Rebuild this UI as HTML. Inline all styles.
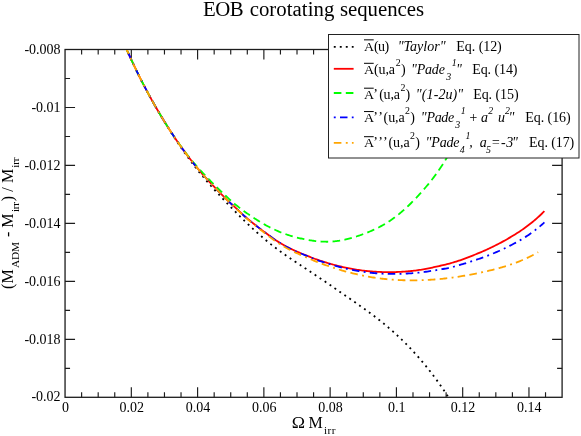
<!DOCTYPE html>
<html><head><meta charset="utf-8"><title>EOB corotating sequences</title>
<style>html,body{margin:0;padding:0;background:#fff;}body{width:581px;height:436px;overflow:hidden;position:relative;font-family:"Liberation Serif",serif;}</style>
</head><body>
<svg width="581" height="436" viewBox="0 0 581 436" style="position:absolute;left:0;top:0">
<rect x="0" y="0" width="581" height="436" fill="#fff"/>
<defs><clipPath id="cp"><rect x="65.64999999999999" y="50.1" width="495.85" height="346.6"/></clipPath></defs>
<g stroke="#1c1c1c" stroke-width="1.3" fill="none" stroke-linecap="butt">
<rect x="65.05" y="49.5" width="497.05" height="347.8"/>
<path d="M81.62,397.3v-5M81.62,49.5v5M98.19,397.3v-5M98.19,49.5v5M114.75,397.3v-5M114.75,49.5v5M131.32,397.3v-10M131.32,49.5v10M147.89,397.3v-5M147.89,49.5v5M164.46,397.3v-5M164.46,49.5v5M181.03,397.3v-5M181.03,49.5v5M197.60,397.3v-10M197.60,49.5v10M214.17,397.3v-5M214.17,49.5v5M230.73,397.3v-5M230.73,49.5v5M247.30,397.3v-5M247.30,49.5v5M263.87,397.3v-10M263.87,49.5v10M280.44,397.3v-5M280.44,49.5v5M297.01,397.3v-5M297.01,49.5v5M313.58,397.3v-5M313.58,49.5v5M330.14,397.3v-10M330.14,49.5v10M346.71,397.3v-5M346.71,49.5v5M363.28,397.3v-5M363.28,49.5v5M379.85,397.3v-5M379.85,49.5v5M396.42,397.3v-10M396.42,49.5v10M412.99,397.3v-5M412.99,49.5v5M429.55,397.3v-5M429.55,49.5v5M446.12,397.3v-5M446.12,49.5v5M462.69,397.3v-10M462.69,49.5v10M479.26,397.3v-5M479.26,49.5v5M495.83,397.3v-5M495.83,49.5v5M512.40,397.3v-5M512.40,49.5v5M528.96,397.3v-10M528.96,49.5v10M545.53,397.3v-5M545.53,49.5v5M65.05,78.48h5M562.1,78.48h-5M65.05,107.47h10M562.1,107.47h-10M65.05,136.45h5M562.1,136.45h-5M65.05,165.43h10M562.1,165.43h-10M65.05,194.42h5M562.1,194.42h-5M65.05,223.40h10M562.1,223.40h-10M65.05,252.38h5M562.1,252.38h-5M65.05,281.37h10M562.1,281.37h-10M65.05,310.35h5M562.1,310.35h-5M65.05,339.33h10M562.1,339.33h-10M65.05,368.32h5M562.1,368.32h-5" stroke-width="1.15"/>
</g>
<g clip-path="url(#cp)" fill="none" stroke-linejoin="round">
<path d="M124.30,44.20 L125.32,46.53 L126.34,48.83 L127.36,51.12 L128.38,53.39 L129.41,55.63 L130.43,57.86 L131.45,60.06 L132.47,62.24 L133.49,64.41 L134.51,66.55 L135.53,68.67 L136.55,70.77 L137.57,72.86 L138.59,74.92 L139.62,76.97 L140.64,79.00 L141.66,81.01 L142.68,83.00 L143.70,84.97 L144.72,86.93 L145.74,88.87 L146.76,90.79 L147.78,92.70 L148.80,94.59 L149.83,96.46 L150.85,98.32 L151.87,100.16 L152.89,101.99 L153.91,103.80 L154.93,105.59 L155.95,107.37 L156.97,109.14 L157.99,110.89 L159.01,112.63 L160.04,114.35 L161.06,116.05 L162.08,117.75 L163.10,119.43 L164.12,121.09 L165.14,122.75 L166.16,124.38 L167.18,126.01 L168.20,127.62 L169.22,129.22 L170.25,131.15 L171.27,132.76 L172.29,134.36 L173.31,135.95 L174.33,137.53 L175.35,139.09 L176.37,140.64 L177.39,142.18 L178.41,143.71 L179.43,145.23 L180.46,146.73 L181.48,148.22 L182.50,149.70 L183.52,151.17 L184.54,152.62 L185.56,154.06 L186.58,155.48 L187.60,156.90 L188.62,158.30 L189.64,159.68 L190.67,161.06 L191.69,162.42 L192.71,163.77 L193.73,165.10 L194.75,166.42 L195.77,167.73 L196.79,169.03 L197.81,170.31 L198.83,171.58 L199.85,172.84 L200.88,174.08 L201.90,175.32 L202.92,176.55 L203.94,177.77 L204.96,178.97 L205.98,180.17 L207.00,181.36 L208.02,182.54 L209.04,183.70 L210.06,184.87 L211.09,186.02 L212.11,187.16 L213.13,188.30 L214.15,189.42 L215.17,190.54 L216.19,191.65 L217.21,192.76 L218.23,193.86 L219.25,194.95 L220.27,196.04 L221.30,197.13 L222.32,198.20 L223.34,199.28 L224.36,200.35 L225.38,201.42 L226.40,202.48 L227.42,203.55 L228.44,204.61 L229.46,205.67 L230.48,206.73 L231.51,207.79 L232.53,208.84 L233.55,209.89 L234.57,210.94 L235.59,211.98 L236.61,213.02 L237.63,214.05 L238.65,215.08 L239.67,216.10 L240.69,217.11 L241.72,218.11 L242.74,219.11 L243.76,220.11 L244.78,221.10 L245.80,222.09 L246.82,223.07 L247.84,224.04 L248.86,225.01 L249.88,225.98 L250.90,226.93 L251.93,227.88 L252.95,228.83 L253.97,229.77 L254.99,230.70 L256.01,231.62 L257.03,232.54 L258.05,233.45 L259.07,234.36 L260.09,235.26 L261.11,236.14 L262.14,237.03 L263.16,237.90 L264.18,238.76 L265.20,239.62 L266.22,240.47 L267.24,241.31 L268.26,242.15 L269.28,242.97 L270.30,243.79 L271.32,244.60 L272.35,245.40 L273.37,246.19 L274.39,246.98 L275.41,247.76 L276.43,248.53 L277.45,249.29 L278.47,250.05 L279.49,250.80 L280.51,251.55 L281.53,252.28 L282.56,253.02 L283.58,253.74 L284.60,254.46 L285.62,255.18 L286.64,255.89 L287.66,256.59 L288.68,257.29 L289.70,257.99 L290.72,258.68 L291.74,259.37 L292.77,260.06 L293.79,260.74 L294.81,261.42 L295.83,262.10 L296.85,262.78 L297.87,263.46 L298.89,264.14 L299.91,264.81 L300.93,265.49 L301.95,266.16 L302.98,266.84 L304.00,267.51 L305.02,268.19 L306.04,268.86 L307.06,269.53 L308.08,270.21 L309.10,270.89 L310.12,271.56 L311.14,272.24 L312.16,272.92 L313.19,273.60 L314.21,274.28 L315.23,274.96 L316.25,275.64 L317.27,276.33 L318.29,277.01 L319.31,277.70 L320.33,278.39 L321.35,279.08 L322.37,279.77 L323.40,280.46 L324.42,281.16 L325.44,281.85 L326.46,282.55 L327.48,283.25 L328.50,283.95 L329.52,284.65 L330.54,285.35 L331.56,286.05 L332.58,286.75 L333.61,287.46 L334.63,288.16 L335.65,288.87 L336.67,289.58 L337.69,290.28 L338.71,290.99 L339.73,291.70 L340.75,292.41 L341.77,293.11 L342.79,293.82 L343.82,294.53 L344.84,295.23 L345.86,295.94 L346.88,296.65 L347.90,297.35 L348.92,298.06 L349.94,298.77 L350.96,299.48 L351.98,300.18 L353.00,300.89 L354.03,301.60 L355.05,302.31 L356.07,303.03 L357.09,303.74 L358.11,304.46 L359.13,305.17 L360.15,305.89 L361.17,306.62 L362.19,307.34 L363.21,308.07 L364.24,308.80 L365.26,309.53 L366.28,310.27 L367.30,311.01 L368.32,311.75 L369.34,312.50 L370.36,313.26 L371.38,314.01 L372.40,314.78 L373.42,315.54 L374.45,316.32 L375.47,317.09 L376.49,317.88 L377.51,318.67 L378.53,319.46 L379.55,320.26 L380.57,321.07 L381.59,321.89 L382.61,322.71 L383.63,323.54 L384.66,324.38 L385.68,325.23 L386.70,326.08 L387.72,326.94 L388.74,327.81 L389.76,328.69 L390.78,329.57 L391.80,330.47 L392.82,331.37 L393.84,332.28 L394.87,333.20 L395.89,334.13 L396.91,335.07 L397.93,336.02 L398.95,336.97 L399.97,337.94 L400.99,338.92 L402.01,339.90 L403.03,340.90 L404.05,341.90 L405.08,342.92 L406.10,343.95 L407.12,344.98 L408.14,346.03 L409.16,347.09 L410.18,348.16 L411.20,349.24 L412.22,350.33 L413.24,351.43 L414.26,352.54 L415.29,353.67 L416.31,354.80 L417.33,355.95 L418.35,357.11 L419.37,358.28 L420.39,359.46 L421.41,360.66 L422.43,361.87 L423.45,363.09 L424.47,364.32 L425.50,365.57 L426.52,366.83 L427.54,368.10 L428.56,369.38 L429.58,370.68 L430.60,371.99 L431.62,373.32 L432.64,374.66 L433.66,376.01 L434.68,377.38 L435.71,378.76 L436.73,380.15 L437.75,381.56 L438.77,382.99 L439.79,384.42 L440.81,385.88 L441.83,387.34 L442.85,388.83 L443.87,390.33 L444.89,391.84 L445.92,393.37 L446.94,394.91 L447.96,396.47 L448.98,398.05 L450.00,399.64" stroke="#000000" stroke-width="1.8" stroke-dasharray="1.9 4.1" stroke-dashoffset="2.18"/>
<path d="M124.30,44.20 L125.62,47.20 L126.93,50.16 L128.25,53.09 L129.57,55.99 L130.88,58.85 L132.20,61.67 L133.52,64.47 L134.84,67.23 L136.15,69.95 L137.47,72.65 L138.79,75.31 L140.10,77.94 L141.42,80.54 L142.74,83.12 L144.05,85.66 L145.37,88.17 L146.69,90.65 L148.00,93.11 L149.32,95.54 L150.64,97.94 L151.96,100.32 L153.27,102.67 L154.59,105.00 L155.91,107.30 L157.22,109.57 L158.54,111.82 L159.86,114.05 L161.17,116.25 L162.49,118.43 L163.81,120.59 L165.12,122.72 L166.44,124.83 L167.76,126.92 L169.08,128.99 L170.39,131.03 L171.71,133.05 L173.03,135.05 L174.34,137.03 L175.66,138.99 L176.98,140.92 L178.29,142.83 L179.61,144.73 L180.93,146.60 L182.24,148.44 L183.56,150.27 L184.88,152.07 L186.20,153.86 L187.51,155.62 L188.83,157.36 L190.15,159.07 L191.46,160.77 L192.78,162.44 L194.10,164.10 L195.41,165.73 L196.73,167.34 L198.05,168.93 L199.36,170.49 L200.68,172.03 L202.00,173.55 L203.32,175.05 L204.63,176.53 L205.95,177.99 L207.27,179.44 L208.58,180.87 L209.90,182.29 L211.22,183.69 L212.53,185.08 L213.85,186.46 L215.17,187.84 L216.48,189.21 L217.80,190.57 L219.12,191.92 L220.44,193.26 L221.75,194.60 L223.07,195.93 L224.39,197.25 L225.70,198.55 L227.02,199.83 L228.34,201.08 L229.65,202.31 L230.97,203.54 L232.29,204.76 L233.61,205.98 L234.92,207.22 L236.24,208.47 L237.56,209.72 L238.87,210.97 L240.19,212.21 L241.51,213.44 L242.82,214.65 L244.14,215.85 L245.46,217.02 L246.77,218.14 L248.09,219.24 L249.41,220.30 L250.73,221.35 L252.04,222.39 L253.36,223.43 L254.68,224.49 L255.99,225.55 L257.31,226.60 L258.63,227.64 L259.94,228.66 L261.26,229.66 L262.58,230.65 L263.89,231.63 L265.21,232.60 L266.53,233.57 L267.85,234.55 L269.16,235.53 L270.48,236.50 L271.80,237.45 L273.11,238.39 L274.43,239.30 L275.75,240.17 L277.06,241.04 L278.38,241.88 L279.70,242.71 L281.01,243.52 L282.33,244.31 L283.65,245.07 L284.97,245.81 L286.28,246.52 L287.60,247.21 L288.92,247.88 L290.23,248.54 L291.55,249.17 L292.87,249.79 L294.18,250.40 L295.50,250.99 L296.82,251.56 L298.13,252.12 L299.45,252.67 L300.77,253.21 L302.09,253.74 L303.40,254.26 L304.72,254.78 L306.04,255.29 L307.35,255.82 L308.67,256.36 L309.99,256.91 L311.30,257.46 L312.62,257.99 L313.94,258.50 L315.25,258.98 L316.57,259.45 L317.89,259.90 L319.21,260.35 L320.52,260.79 L321.84,261.22 L323.16,261.64 L324.47,262.05 L325.79,262.45 L327.11,262.85 L328.42,263.25 L329.74,263.63 L331.06,264.01 L332.37,264.38 L333.69,264.75 L335.01,265.10 L336.33,265.45 L337.64,265.79 L338.96,266.12 L340.28,266.44 L341.59,266.75 L342.91,267.05 L344.23,267.35 L345.54,267.63 L346.86,267.91 L348.18,268.18 L349.49,268.44 L350.81,268.69 L352.13,268.93 L353.45,269.17 L354.76,269.39 L356.08,269.60 L357.40,269.81 L358.71,270.00 L360.03,270.19 L361.35,270.37 L362.66,270.54 L363.98,270.70 L365.30,270.85 L366.61,271.00 L367.93,271.13 L369.25,271.26 L370.57,271.37 L371.88,271.48 L373.20,271.58 L374.52,271.67 L375.83,271.75 L377.15,271.82 L378.47,271.89 L379.78,271.94 L381.10,271.99 L382.42,272.03 L383.73,272.06 L385.05,272.08 L386.37,272.09 L387.69,272.10 L389.00,272.10 L390.32,272.10 L391.64,272.10 L392.95,272.08 L394.27,272.06 L395.59,272.04 L396.90,272.00 L398.22,271.96 L399.54,271.91 L400.85,271.84 L402.17,271.77 L403.49,271.69 L404.81,271.59 L406.12,271.49 L407.44,271.38 L408.76,271.26 L410.07,271.14 L411.39,271.00 L412.71,270.86 L414.02,270.70 L415.34,270.54 L416.66,270.36 L417.97,270.18 L419.29,269.98 L420.61,269.77 L421.93,269.55 L423.24,269.33 L424.56,269.09 L425.88,268.84 L427.19,268.59 L428.51,268.33 L429.83,268.06 L431.14,267.79 L432.46,267.51 L433.78,267.22 L435.09,266.93 L436.41,266.63 L437.73,266.33 L439.05,266.04 L440.36,265.75 L441.68,265.46 L443.00,265.17 L444.31,264.86 L445.63,264.55 L446.95,264.22 L448.26,263.88 L449.58,263.53 L450.90,263.15 L452.22,262.76 L453.53,262.36 L454.85,261.95 L456.17,261.54 L457.48,261.12 L458.80,260.70 L460.12,260.27 L461.43,259.83 L462.75,259.39 L464.07,258.92 L465.38,258.43 L466.70,257.92 L468.02,257.40 L469.34,256.87 L470.65,256.35 L471.97,255.82 L473.29,255.30 L474.60,254.77 L475.92,254.24 L477.24,253.70 L478.55,253.16 L479.87,252.61 L481.19,252.05 L482.50,251.48 L483.82,250.91 L485.14,250.33 L486.46,249.74 L487.77,249.13 L489.09,248.52 L490.41,247.89 L491.72,247.26 L493.04,246.62 L494.36,245.97 L495.67,245.30 L496.99,244.64 L498.31,243.96 L499.62,243.27 L500.94,242.58 L502.26,241.87 L503.58,241.15 L504.89,240.42 L506.21,239.67 L507.53,238.92 L508.84,238.15 L510.16,237.37 L511.48,236.59 L512.79,235.79 L514.11,234.99 L515.43,234.18 L516.74,233.35 L518.06,232.51 L519.38,231.65 L520.70,230.77 L522.01,229.87 L523.33,228.96 L524.65,228.02 L525.96,227.06 L527.28,226.09 L528.60,225.09 L529.91,224.06 L531.23,223.02 L532.55,221.95 L533.86,220.86 L535.18,219.74 L536.50,218.59 L537.82,217.42 L539.13,216.23 L540.45,215.00 L541.77,213.74 L543.08,212.46 L544.40,211.14" stroke="#ff0000" stroke-width="1.8"/>
<path d="M124.30,44.20 L125.32,46.53 L126.34,48.83 L127.36,51.12 L128.38,53.39 L129.41,55.63 L130.43,57.86 L131.45,60.06 L132.47,62.24 L133.49,64.41 L134.51,66.55 L135.53,68.67 L136.55,70.77 L137.57,72.86 L138.59,74.92 L139.62,76.97 L140.64,79.00 L141.66,81.01 L142.68,83.00 L143.70,84.97 L144.72,86.93 L145.74,88.87 L146.76,90.79 L147.78,92.70 L148.80,94.59 L149.83,96.46 L150.85,98.32 L151.87,100.16 L152.89,101.99 L153.91,103.80 L154.93,105.59 L155.95,107.37 L156.97,109.14 L157.99,110.89 L159.01,112.63 L160.04,114.35 L161.06,116.05 L162.08,117.75 L163.10,119.43 L164.12,121.09 L165.14,122.75 L166.16,124.38 L167.18,126.01 L168.20,127.62 L169.22,129.22 L170.25,130.80 L171.27,132.37 L172.29,133.93 L173.31,135.48 L174.33,137.01 L175.35,138.39 L176.37,139.88 L177.39,141.35 L178.41,142.81 L179.43,144.25 L180.46,145.68 L181.48,147.10 L182.50,148.50 L183.52,149.89 L184.54,151.27 L185.56,152.62 L186.58,153.96 L187.60,155.27 L188.62,156.57 L189.64,157.84 L190.67,159.09 L191.69,160.33 L192.71,161.55 L193.73,162.75 L194.75,163.94 L195.77,165.11 L196.79,166.28 L197.81,167.43 L198.83,168.58 L199.85,169.72 L200.88,170.84 L201.90,171.96 L202.92,173.06 L203.94,174.15 L204.96,175.22 L205.98,176.29 L207.00,177.35 L208.02,178.40 L209.04,179.45 L210.06,180.49 L211.09,181.53 L212.11,182.56 L213.13,183.59 L214.15,184.62 L215.17,185.64 L216.19,186.66 L217.21,187.67 L218.23,188.67 L219.25,189.67 L220.27,190.67 L221.30,191.65 L222.32,192.63 L223.34,193.60 L224.36,194.56 L225.38,195.52 L226.40,196.47 L227.42,197.43 L228.44,198.38 L229.46,199.32 L230.48,200.26 L231.51,201.18 L232.53,202.09 L233.55,202.98 L234.57,203.85 L235.59,204.69 L236.61,205.51 L237.63,206.31 L238.65,207.11 L239.67,207.90 L240.69,208.68 L241.72,209.45 L242.74,210.21 L243.76,210.96 L244.78,211.71 L245.80,212.44 L246.82,213.17 L247.84,213.88 L248.86,214.59 L249.88,215.29 L250.90,215.98 L251.93,216.67 L252.95,217.35 L253.97,218.02 L254.99,218.68 L256.01,219.34 L257.03,219.99 L258.05,220.63 L259.07,221.26 L260.09,221.88 L261.11,222.49 L262.14,223.10 L263.16,223.69 L264.18,224.28 L265.20,224.85 L266.22,225.42 L267.24,225.97 L268.26,226.52 L269.28,227.05 L270.30,227.58 L271.32,228.09 L272.35,228.59 L273.37,229.08 L274.39,229.56 L275.41,230.03 L276.43,230.49 L277.45,230.94 L278.47,231.38 L279.49,231.81 L280.51,232.22 L281.53,232.63 L282.56,233.02 L283.58,233.41 L284.60,233.78 L285.62,234.15 L286.64,234.50 L287.66,234.84 L288.68,235.18 L289.70,235.50 L290.72,235.82 L291.74,236.12 L292.77,236.42 L293.79,236.71 L294.81,236.99 L295.83,237.26 L296.85,237.52 L297.87,237.78 L298.89,238.03 L299.91,238.27 L300.93,238.50 L301.95,238.73 L302.98,238.95 L304.00,239.16 L305.02,239.36 L306.04,239.56 L307.06,239.75 L308.08,239.94 L309.10,240.12 L310.12,240.29 L311.14,240.45 L312.16,240.61 L313.19,240.75 L314.21,240.89 L315.23,241.02 L316.25,241.13 L317.27,241.24 L318.29,241.33 L319.31,241.41 L320.33,241.48 L321.35,241.55 L322.37,241.60 L323.40,241.65 L324.42,241.69 L325.44,241.71 L326.46,241.73 L327.48,241.73 L328.50,241.72 L329.52,241.69 L330.54,241.65 L331.56,241.59 L332.58,241.52 L333.61,241.43 L334.63,241.32 L335.65,241.21 L336.67,241.08 L337.69,240.95 L338.71,240.80 L339.73,240.65 L340.75,240.48 L341.77,240.31 L342.79,240.11 L343.82,239.91 L344.84,239.68 L345.86,239.44 L346.88,239.19 L347.90,238.92 L348.92,238.65 L349.94,238.37 L350.96,238.09 L351.98,237.79 L353.00,237.50 L354.03,237.20 L355.05,236.89 L356.07,236.58 L357.09,236.25 L358.11,235.92 L359.13,235.58 L360.15,235.24 L361.17,234.88 L362.19,234.52 L363.21,234.15 L364.24,233.77 L365.26,233.38 L366.28,232.99 L367.30,232.58 L368.32,232.16 L369.34,231.73 L370.36,231.29 L371.38,230.84 L372.40,230.39 L373.42,229.92 L374.45,229.44 L375.47,228.96 L376.49,228.46 L377.51,227.96 L378.53,227.46 L379.55,226.94 L380.57,226.40 L381.59,225.85 L382.61,225.29 L383.63,224.71 L384.66,224.11 L385.68,223.50 L386.70,222.88 L387.72,222.24 L388.74,221.58 L389.76,220.91 L390.78,220.22 L391.80,219.52 L392.82,218.80 L393.84,218.06 L394.87,217.30 L395.89,216.53 L396.91,215.74 L397.93,214.93 L398.95,214.11 L399.97,213.27 L400.99,212.42 L402.01,211.54 L403.03,210.66 L404.05,209.75 L405.08,208.83 L406.10,207.90 L407.12,206.95 L408.14,205.99 L409.16,205.01 L410.18,204.01 L411.20,203.01 L412.22,201.98 L413.24,200.95 L414.26,199.90 L415.29,198.83 L416.31,197.76 L417.33,196.67 L418.35,195.56 L419.37,194.45 L420.39,193.32 L421.41,192.18 L422.43,191.02 L423.45,189.86 L424.47,188.68 L425.50,187.49 L426.52,186.29 L427.54,185.07 L428.56,183.83 L429.58,182.58 L430.60,181.31 L431.62,180.02 L432.64,178.70 L433.66,177.37 L434.68,176.01 L435.71,174.63 L436.73,173.23 L437.75,171.79 L438.77,170.33 L439.79,168.84 L440.81,167.32 L441.83,165.77 L442.85,164.19 L443.87,162.57 L444.89,160.92 L445.92,159.24 L446.94,157.51 L447.96,155.75 L448.98,153.95 L450.00,152.11" stroke="#00ff00" stroke-width="1.8" stroke-dasharray="7.6 4.4" stroke-dashoffset="8.71"/>
<path d="M124.30,44.20 L125.62,47.20 L126.93,50.16 L128.25,53.09 L129.57,55.99 L130.88,58.85 L132.20,61.67 L133.52,64.47 L134.84,67.23 L136.15,69.95 L137.47,72.65 L138.79,75.31 L140.10,77.94 L141.42,80.54 L142.74,83.12 L144.05,85.66 L145.37,88.17 L146.69,90.65 L148.00,93.11 L149.32,95.54 L150.64,97.94 L151.96,100.32 L153.27,102.67 L154.59,105.00 L155.91,107.30 L157.22,109.57 L158.54,111.82 L159.86,114.05 L161.17,116.25 L162.49,118.43 L163.81,120.59 L165.12,122.72 L166.44,124.83 L167.76,126.92 L169.08,128.99 L170.39,131.03 L171.71,133.05 L173.03,135.05 L174.34,137.03 L175.66,138.99 L176.98,140.92 L178.29,142.83 L179.61,144.73 L180.93,146.60 L182.24,148.44 L183.56,150.27 L184.88,152.07 L186.20,153.86 L187.51,155.62 L188.83,157.36 L190.15,159.07 L191.46,160.77 L192.78,162.44 L194.10,164.10 L195.41,165.73 L196.73,167.34 L198.05,168.93 L199.36,170.49 L200.68,172.03 L202.00,173.55 L203.32,175.05 L204.63,176.53 L205.95,177.99 L207.27,179.44 L208.58,180.87 L209.90,182.29 L211.22,183.69 L212.53,185.08 L213.85,186.46 L215.17,187.84 L216.48,189.21 L217.80,190.57 L219.12,191.92 L220.44,193.26 L221.75,194.60 L223.07,195.93 L224.39,197.25 L225.70,198.55 L227.02,199.83 L228.34,201.08 L229.65,202.31 L230.97,203.54 L232.29,204.76 L233.61,205.98 L234.92,207.22 L236.24,208.47 L237.56,209.72 L238.87,210.97 L240.19,212.21 L241.51,213.44 L242.82,214.65 L244.14,215.85 L245.46,217.02 L246.77,218.14 L248.09,219.24 L249.41,220.30 L250.73,221.35 L252.04,222.39 L253.36,223.43 L254.68,224.49 L255.99,225.55 L257.31,226.60 L258.63,227.64 L259.94,228.66 L261.26,229.70 L262.58,230.70 L263.89,231.68 L265.21,232.65 L266.53,233.63 L267.85,234.61 L269.16,235.59 L270.48,236.57 L271.80,237.53 L273.11,238.47 L274.43,239.38 L275.75,240.27 L277.06,241.14 L278.38,241.99 L279.70,242.82 L281.01,243.64 L282.33,244.43 L283.65,245.20 L284.97,245.95 L286.28,246.67 L287.60,247.37 L288.92,248.05 L290.23,248.71 L291.55,249.36 L292.87,249.99 L294.18,250.60 L295.50,251.20 L296.82,251.79 L298.13,252.36 L299.45,252.92 L300.77,253.46 L302.09,254.00 L303.40,254.54 L304.72,255.07 L306.04,255.60 L307.35,256.14 L308.67,256.69 L309.99,257.25 L311.30,257.81 L312.62,258.36 L313.94,258.88 L315.25,259.38 L316.57,259.86 L317.89,260.33 L319.21,260.79 L320.52,261.24 L321.84,261.69 L323.16,262.13 L324.47,262.56 L325.79,262.98 L327.11,263.40 L328.42,263.81 L329.74,264.21 L331.06,264.61 L332.37,265.00 L333.69,265.38 L335.01,265.76 L336.33,266.13 L337.64,266.49 L338.96,266.84 L340.28,267.18 L341.59,267.51 L342.91,267.84 L344.23,268.15 L345.54,268.46 L346.86,268.77 L348.18,269.06 L349.49,269.34 L350.81,269.62 L352.13,269.89 L353.45,270.15 L354.76,270.39 L356.08,270.64 L357.40,270.87 L358.71,271.09 L360.03,271.31 L361.35,271.52 L362.66,271.72 L363.98,271.91 L365.30,272.09 L366.61,272.27 L367.93,272.43 L369.25,272.59 L370.57,272.74 L371.88,272.88 L373.20,273.01 L374.52,273.14 L375.83,273.25 L377.15,273.36 L378.47,273.46 L379.78,273.55 L381.10,273.63 L382.42,273.70 L383.73,273.76 L385.05,273.82 L386.37,273.86 L387.69,273.90 L389.00,273.93 L390.32,273.95 L391.64,273.96 L392.95,273.96 L394.27,273.96 L395.59,273.95 L396.90,273.93 L398.22,273.90 L399.54,273.87 L400.85,273.83 L402.17,273.78 L403.49,273.73 L404.81,273.66 L406.12,273.60 L407.44,273.52 L408.76,273.45 L410.07,273.37 L411.39,273.28 L412.71,273.18 L414.02,273.08 L415.34,272.97 L416.66,272.85 L417.97,272.72 L419.29,272.59 L420.61,272.44 L421.93,272.28 L423.24,272.12 L424.56,271.94 L425.88,271.76 L427.19,271.57 L428.51,271.37 L429.83,271.17 L431.14,270.96 L432.46,270.75 L433.78,270.53 L435.09,270.31 L436.41,270.08 L437.73,269.86 L439.05,269.65 L440.36,269.43 L441.68,269.21 L443.00,268.99 L444.31,268.76 L445.63,268.53 L446.95,268.28 L448.26,268.01 L449.58,267.72 L450.90,267.42 L452.22,267.09 L453.53,266.75 L454.85,266.39 L456.17,266.02 L457.48,265.65 L458.80,265.26 L460.12,264.88 L461.43,264.48 L462.75,264.09 L464.07,263.69 L465.38,263.29 L466.70,262.87 L468.02,262.46 L469.34,262.04 L470.65,261.61 L471.97,261.18 L473.29,260.75 L474.60,260.32 L475.92,259.88 L477.24,259.43 L478.55,258.98 L479.87,258.53 L481.19,258.06 L482.50,257.59 L483.82,257.12 L485.14,256.63 L486.46,256.14 L487.77,255.63 L489.09,255.12 L490.41,254.60 L491.72,254.07 L493.04,253.53 L494.36,252.98 L495.67,252.43 L496.99,251.86 L498.31,251.29 L499.62,250.71 L500.94,250.11 L502.26,249.51 L503.58,248.89 L504.89,248.26 L506.21,247.61 L507.53,246.96 L508.84,246.30 L510.16,245.62 L511.48,244.94 L512.79,244.25 L514.11,243.55 L515.43,242.85 L516.74,242.13 L518.06,241.40 L519.38,240.65 L520.70,239.88 L522.01,239.10 L523.33,238.29 L524.65,237.47 L525.96,236.63 L527.28,235.77 L528.60,234.88 L529.91,233.98 L531.23,233.05 L532.55,232.11 L533.86,231.13 L535.18,230.14 L536.50,229.11 L537.82,228.07 L539.13,226.99 L540.45,225.89 L541.77,224.76 L543.08,223.60 L544.40,222.41" stroke="#0000ff" stroke-width="1.8" stroke-dasharray="1.9 4.3 7.5 4.3" stroke-dashoffset="14.79"/>
<path d="M124.30,44.20 L125.60,47.15 L126.89,50.08 L128.19,52.96 L129.49,55.82 L130.79,58.64 L132.08,61.43 L133.38,64.18 L134.68,66.90 L135.98,69.59 L137.27,72.25 L138.57,74.88 L139.87,77.48 L141.17,80.05 L142.46,82.59 L143.76,85.10 L145.06,87.58 L146.36,90.03 L147.65,92.46 L148.95,94.86 L150.25,97.24 L151.55,99.59 L152.84,101.91 L154.14,104.21 L155.44,106.48 L156.74,108.73 L158.03,110.96 L159.33,113.16 L160.63,115.34 L161.93,117.50 L163.22,119.64 L164.52,121.75 L165.82,123.84 L167.12,125.91 L168.41,127.95 L169.71,129.98 L171.01,131.98 L172.31,133.96 L173.60,135.92 L174.90,137.86 L176.20,139.78 L177.50,141.68 L178.79,143.56 L180.09,145.41 L181.39,147.25 L182.69,149.06 L183.98,150.85 L185.28,152.62 L186.58,154.37 L187.88,156.10 L189.17,157.81 L190.47,159.49 L191.77,161.16 L193.07,162.81 L194.36,164.43 L195.66,166.04 L196.96,167.62 L198.26,169.18 L199.55,170.71 L200.85,172.23 L202.15,173.72 L203.45,175.20 L204.74,176.65 L206.04,178.09 L207.34,179.52 L208.64,180.93 L209.93,182.32 L211.23,183.70 L212.53,185.08 L213.83,186.44 L215.12,187.79 L216.42,189.14 L217.72,190.48 L219.02,191.81 L220.31,193.14 L221.61,194.46 L222.91,195.77 L224.21,197.07 L225.50,198.36 L226.80,199.62 L228.10,200.86 L229.40,202.07 L230.69,203.44 L231.99,204.67 L233.29,205.89 L234.59,207.13 L235.88,208.38 L237.18,209.63 L238.48,210.88 L239.78,212.13 L241.07,213.37 L242.37,214.59 L243.67,215.80 L244.97,216.98 L246.26,218.14 L247.56,219.25 L248.86,220.34 L250.16,221.40 L251.45,222.46 L252.75,223.51 L254.05,224.58 L255.35,225.65 L256.64,226.73 L257.94,227.78 L259.24,228.83 L260.54,229.86 L261.83,230.87 L263.13,231.88 L264.43,232.87 L265.73,233.86 L267.02,234.85 L268.32,235.85 L269.62,236.85 L270.92,237.84 L272.21,238.81 L273.51,239.76 L274.81,240.68 L276.11,241.57 L277.40,242.44 L278.70,243.30 L280.00,244.14 L281.30,244.96 L282.59,245.76 L283.89,246.53 L285.19,247.28 L286.49,248.01 L287.78,248.71 L289.08,249.40 L290.38,250.06 L291.68,250.72 L292.97,251.36 L294.27,251.98 L295.57,252.60 L296.87,253.21 L298.16,253.80 L299.46,254.39 L300.76,254.96 L302.06,255.53 L303.35,256.09 L304.65,256.65 L305.95,257.21 L307.25,257.76 L308.54,258.33 L309.84,258.89 L311.14,259.45 L312.44,260.01 L313.73,260.55 L315.03,261.08 L316.33,261.60 L317.63,262.11 L318.92,262.61 L320.22,263.11 L321.52,263.60 L322.82,264.08 L324.11,264.56 L325.41,265.03 L326.71,265.49 L328.01,265.94 L329.30,266.39 L330.60,266.83 L331.90,267.27 L333.20,267.70 L334.49,268.12 L335.79,268.54 L337.09,268.95 L338.39,269.35 L339.68,269.75 L340.98,270.13 L342.28,270.52 L343.58,270.89 L344.87,271.26 L346.17,271.61 L347.47,271.97 L348.77,272.31 L350.06,272.65 L351.36,272.98 L352.66,273.30 L353.96,273.62 L355.25,273.92 L356.55,274.23 L357.85,274.52 L359.15,274.81 L360.44,275.09 L361.74,275.36 L363.04,275.63 L364.34,275.89 L365.63,276.14 L366.93,276.39 L368.23,276.63 L369.53,276.86 L370.82,277.08 L372.12,277.30 L373.42,277.51 L374.72,277.71 L376.01,277.90 L377.31,278.08 L378.61,278.26 L379.91,278.43 L381.20,278.59 L382.50,278.74 L383.80,278.89 L385.10,279.02 L386.39,279.15 L387.69,279.27 L388.99,279.39 L390.29,279.50 L391.58,279.60 L392.88,279.70 L394.18,279.79 L395.48,279.87 L396.77,279.94 L398.07,280.01 L399.37,280.08 L400.67,280.13 L401.96,280.18 L403.26,280.23 L404.56,280.27 L405.86,280.30 L407.15,280.32 L408.45,280.34 L409.75,280.36 L411.05,280.36 L412.34,280.36 L413.64,280.36 L414.94,280.35 L416.24,280.33 L417.53,280.31 L418.83,280.28 L420.13,280.25 L421.43,280.21 L422.72,280.16 L424.02,280.11 L425.32,280.05 L426.62,279.99 L427.91,279.92 L429.21,279.85 L430.51,279.77 L431.81,279.68 L433.10,279.59 L434.40,279.49 L435.70,279.39 L437.00,279.28 L438.29,279.16 L439.59,279.04 L440.89,278.92 L442.19,278.79 L443.48,278.65 L444.78,278.51 L446.08,278.36 L447.38,278.21 L448.67,278.05 L449.97,277.88 L451.27,277.71 L452.57,277.54 L453.86,277.36 L455.16,277.17 L456.46,276.99 L457.76,276.79 L459.05,276.59 L460.35,276.39 L461.65,276.18 L462.95,275.97 L464.24,275.75 L465.54,275.53 L466.84,275.30 L468.14,275.07 L469.43,274.83 L470.73,274.59 L472.03,274.35 L473.33,274.10 L474.62,273.85 L475.92,273.59 L477.22,273.33 L478.52,273.06 L479.81,272.79 L481.11,272.51 L482.41,272.23 L483.71,271.94 L485.00,271.65 L486.30,271.35 L487.60,271.05 L488.90,270.74 L490.19,270.42 L491.49,270.10 L492.79,269.78 L494.09,269.44 L495.38,269.10 L496.68,268.76 L497.98,268.41 L499.28,268.05 L500.57,267.68 L501.87,267.30 L503.17,266.92 L504.47,266.53 L505.76,266.13 L507.06,265.72 L508.36,265.30 L509.66,264.88 L510.95,264.44 L512.25,263.99 L513.55,263.53 L514.85,263.06 L516.14,262.58 L517.44,262.09 L518.74,261.58 L520.04,261.06 L521.33,260.53 L522.63,259.99 L523.93,259.43 L525.23,258.85 L526.52,258.26 L527.82,257.65 L529.12,257.03 L530.42,256.39 L531.71,255.73 L533.01,255.06 L534.31,254.36 L535.61,253.65 L536.90,252.91 L538.20,252.16" stroke="#ffa500" stroke-width="1.8" stroke-dasharray="7.6 4.4 1.9 4.2 7.6 4.3" stroke-dashoffset="26.88"/>
</g>
<g style="filter:grayscale(1)" font-family="Liberation Serif, serif" font-size="14.0" fill="#000">
<text x="65.45" y="411.7" text-anchor="middle">0</text>
<text x="131.72" y="411.7" text-anchor="middle">0.02</text>
<text x="198.00" y="411.7" text-anchor="middle">0.04</text>
<text x="264.27" y="411.7" text-anchor="middle">0.06</text>
<text x="330.54" y="411.7" text-anchor="middle">0.08</text>
<text x="396.82" y="411.7" text-anchor="middle">0.1</text>
<text x="463.09" y="411.7" text-anchor="middle">0.12</text>
<text x="529.36" y="411.7" text-anchor="middle">0.14</text>
<text x="60.6" y="54.20" text-anchor="end">-0.008</text>
<text x="60.6" y="112.17" text-anchor="end">-0.01</text>
<text x="60.6" y="170.13" text-anchor="end">-0.012</text>
<text x="60.6" y="228.10" text-anchor="end">-0.014</text>
<text x="60.6" y="286.07" text-anchor="end">-0.016</text>
<text x="60.6" y="344.03" text-anchor="end">-0.018</text>
<text x="60.6" y="401.40" text-anchor="end">-0.02</text>
</g>
<rect x="328.5" y="34.5" width="250.5" height="123.5" fill="#fff" stroke="#222" stroke-width="1"/>
<path d="M333.8,46.8H353.6" stroke="#000000" stroke-width="1.8" fill="none" stroke-dasharray="1.9 4.1"/>
<path d="M333.8,68.8H353.6" stroke="#ff0000" stroke-width="1.8" fill="none"/>
<path d="M333.8,93.0H353.6" stroke="#00ff00" stroke-width="1.8" fill="none" stroke-dasharray="7.6 4.4"/>
<path d="M333.8,117.4H353.6" stroke="#0000ff" stroke-width="1.8" fill="none" stroke-dasharray="1.9 4.3 7.5 4.3"/>
<path d="M333.8,142.8H353.6" stroke="#ffa500" stroke-width="1.8" fill="none" stroke-dasharray="7.6 4.4 1.9 4.2 7.6 4.3"/>
<g style="filter:grayscale(1)" font-family="Liberation Serif, serif" fill="#000">
<text transform="translate(363.94,50.70) scale(1,0.94)" font-size="14.0">A</text>
<text x="373.95" y="50.70" font-size="14.0" textLength="15.30" lengthAdjust="spacing">(u)</text>
<text x="397.66" y="50.70" font-size="14.0" font-style="italic" textLength="47.92" lengthAdjust="spacing">"Taylor"</text>
<text x="456.37" y="50.70" font-size="14.0" textLength="45.37" lengthAdjust="spacing">Eq. (12)</text>
<path d="M364.0,39.85h9.7" stroke="#000" stroke-width="1" fill="none"/>
<text transform="translate(363.94,74.00) scale(1,0.94)" font-size="14.0">A</text>
<text x="373.95" y="74.00" font-size="14.0" textLength="21.06" lengthAdjust="spacing">(u,a</text>
<text x="395.63" y="65.80" font-size="9.9">2</text>
<text x="401.03" y="74.00" font-size="14.0">)</text>
<text x="411.06" y="74.00" font-size="14.0" font-style="italic" textLength="33.80" lengthAdjust="spacing">"Pade</text>
<text x="446.17" y="79.80" font-size="9.9" font-style="italic">3</text>
<text x="451.70" y="65.80" font-size="9.9" font-style="italic">1</text>
<text x="455.96" y="74.00" font-size="14.0" font-style="italic">"</text>
<text x="472.17" y="74.00" font-size="14.0" textLength="45.37" lengthAdjust="spacing">Eq. (14)</text>
<path d="M364.0,63.30h9.7" stroke="#000" stroke-width="1" fill="none"/>
<text transform="translate(363.94,98.50) scale(1,0.94)" font-size="14.0">A</text>
<text x="373.32" y="98.50" font-size="14.0">’</text>
<text x="379.15" y="98.50" font-size="14.0" textLength="20.76" lengthAdjust="spacing">(u,a</text>
<text x="400.53" y="90.60" font-size="9.9">2</text>
<text x="405.43" y="98.50" font-size="14.0">)</text>
<text x="415.86" y="98.50" font-size="14.0" font-style="italic" textLength="47.40" lengthAdjust="spacing">"(1-2u)"</text>
<text x="473.17" y="98.50" font-size="14.0" textLength="45.47" lengthAdjust="spacing">Eq. (15)</text>
<path d="M364.0,88.20h9.7" stroke="#000" stroke-width="1" fill="none"/>
<text transform="translate(363.94,121.60) scale(1,0.94)" font-size="14.0">A</text>
<text x="373.32" y="121.60" font-size="14.0">’</text>
<text x="378.22" y="121.60" font-size="14.0">’</text>
<text x="383.55" y="121.60" font-size="14.0" textLength="21.16" lengthAdjust="spacing">(u,a</text>
<text x="405.03" y="114.10" font-size="9.9">2</text>
<text x="410.13" y="121.60" font-size="14.0">)</text>
<text x="420.86" y="121.60" font-size="14.0" font-style="italic" textLength="33.30" lengthAdjust="spacing">"Pade</text>
<text x="455.27" y="128.10" font-size="9.9" font-style="italic">3</text>
<text x="460.80" y="114.10" font-size="9.9" font-style="italic">1</text>
<text x="468.38" y="121.60" font-size="14.0" font-style="italic">+</text>
<text x="481.06" y="121.60" font-size="14.0" font-style="italic">a</text>
<text x="488.25" y="114.10" font-size="9.9" font-style="italic">2</text>
<text x="497.88" y="121.60" font-size="14.0" font-style="italic">u</text>
<text x="505.05" y="114.10" font-size="9.9" font-style="italic">2</text>
<text x="508.46" y="121.60" font-size="14.0" font-style="italic">"</text>
<text x="525.26" y="121.60" font-size="14.0" textLength="45.47" lengthAdjust="spacing">Eq. (16)</text>
<path d="M364.0,111.55h9.7" stroke="#000" stroke-width="1" fill="none"/>
<text transform="translate(363.94,146.90) scale(1,0.94)" font-size="14.0">A</text>
<text x="373.32" y="146.90" font-size="14.0">’</text>
<text x="378.22" y="146.90" font-size="14.0">’</text>
<text x="383.12" y="146.90" font-size="14.0">’</text>
<text x="388.55" y="146.90" font-size="14.0" textLength="21.06" lengthAdjust="spacing">(u,a</text>
<text x="409.93" y="139.20" font-size="9.9">2</text>
<text x="415.13" y="146.90" font-size="14.0">)</text>
<text x="425.56" y="146.90" font-size="14.0" font-style="italic" textLength="33.90" lengthAdjust="spacing">"Pade</text>
<text x="459.63" y="153.20" font-size="9.9" font-style="italic">4</text>
<text x="465.40" y="139.20" font-size="9.9" font-style="italic">1</text>
<text x="469.30" y="146.90" font-size="14.0" font-style="italic">,</text>
<text x="479.87" y="146.90" font-size="14.0" font-style="italic">a</text>
<text x="486.00" y="153.20" font-size="9.9" font-style="italic">5</text>
<text x="491.07" y="146.90" font-size="14.0" font-style="italic" textLength="22.13" lengthAdjust="spacing">=-3</text>
<text x="512.07" y="146.90" font-size="14.0" font-style="italic">"</text>
<text x="529.07" y="146.90" font-size="14.0" textLength="45.17" lengthAdjust="spacing">Eq. (17)</text>
<path d="M364.0,136.70h9.7" stroke="#000" stroke-width="1" fill="none"/>
</g>
<g style="filter:grayscale(1)" font-family="Liberation Serif, serif" fill="#000">
<text x="203.08" y="15.50" font-size="20.8" textLength="40.46" lengthAdjust="spacing">EOB</text>
<text x="249.67" y="15.50" font-size="20.8" textLength="84.63" lengthAdjust="spacing">corotating</text>
<text x="339.92" y="15.50" font-size="20.8" textLength="84.14" lengthAdjust="spacing">sequences</text>
<text transform="translate(291.66,428.0) scale(1.119,1)" font-size="16">Ω</text>
<text x="308.51" y="428.00" font-size="16">M</text>
<text x="324.12" y="434.40" font-size="11.3" textLength="11.33" lengthAdjust="spacing">irr</text>
<text transform="translate(12.85,289.03) rotate(-90)" font-size="16">(</text>
<text transform="translate(12.85,283.49) rotate(-90)" font-size="16">M</text>
<text transform="translate(19.0,267.93) rotate(-90)" font-size="11.3" textLength="26.01" lengthAdjust="spacing">ADM</text>
<text transform="translate(12.85,237.11) rotate(-90)" font-size="16">-</text>
<text transform="translate(12.85,227.69) rotate(-90)" font-size="16">M</text>
<text transform="translate(19.0,212.08) rotate(-90)" font-size="11.3" textLength="10.13" lengthAdjust="spacing">irr</text>
<text transform="translate(12.85,201.13) rotate(-90)" font-size="16">)</text>
<text transform="translate(12.85,191.65) rotate(-90)" font-size="16">/</text>
<text transform="translate(12.85,182.99) rotate(-90)" font-size="16">M</text>
<text transform="translate(19.0,167.78) rotate(-90)" font-size="11.3" textLength="10.33" lengthAdjust="spacing">irr</text>
</g>
</svg>
</body></html>
